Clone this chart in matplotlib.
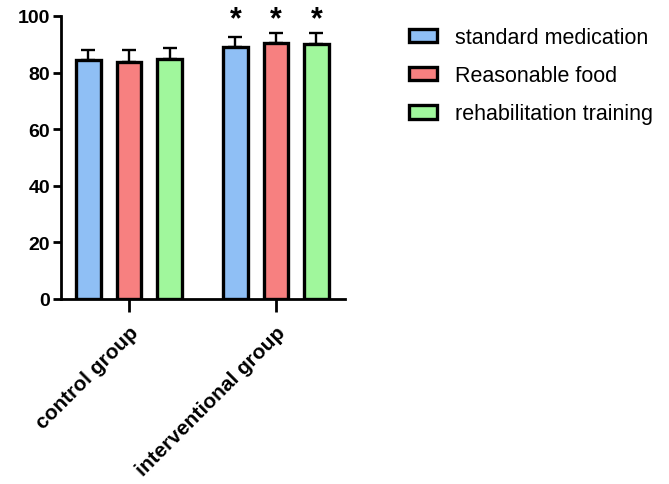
import matplotlib.pyplot as plt
import numpy as np

plt.rcParams['font.family'] = ['Liberation Sans', 'DejaVu Sans']

groups = ["control group", "interventional group"]
series = ["standard medication", "Reasonable food", "rehabilitation training"]
colors = ["#8fbff5", "#f78080", "#a0f79c"]
means = {
    "standard medication": [84.3, 89.0],
    "Reasonable food": [83.6, 90.6],
    "rehabilitation training": [84.9, 90.1],
}
sds = {
    "standard medication": [3.7, 3.6],
    "Reasonable food": [4.4, 3.5],
    "rehabilitation training": [3.7, 4.0],
}
significant = [False, True]
yticks = [0, 20, 40, 60, 80, 100]

fig = plt.figure(figsize=(6.69, 4.85), dpi=100)
ax = fig.add_axes([61 / 669, (485 - 300) / 485, (345 - 61) / 669, 283 / 485])

x = np.arange(len(groups))
offset = 0.276
width = 0.165
for i, name in enumerate(series):
    pos = x + (i - 1) * offset
    ax.bar(pos, means[name], width=width, color=colors[i], edgecolor="black",
           linewidth=2.4, label=name, zorder=2)
    ax.errorbar(pos, means[name], yerr=[np.zeros(len(groups)), sds[name]],
                fmt="none", ecolor="black", elinewidth=1.7, capsize=5,
                capthick=1.7, zorder=1)
    for j, sig in enumerate(significant):
        if sig:
            ax.text(pos[j], 99.0, "*", ha="center", va="center",
                    fontsize=22, fontweight="bold")

ax.set_xlim(-0.463, 1.47)
ax.set_ylim(0, 100)
ax.set_yticks(yticks)
ax.set_yticklabels([str(t) for t in yticks], fontsize=14, fontweight="bold")
ax.set_xticks(x)
ax.set_xticklabels(groups, rotation=45, ha="right", rotation_mode="anchor",
                   fontsize=15, fontweight="bold")
for s in ["top", "right"]:
    ax.spines[s].set_visible(False)
for s in ["left", "bottom"]:
    ax.spines[s].set_linewidth(2)
ax.tick_params(axis="y", width=2, length=6, pad=2)
ax.tick_params(axis="x", width=2, length=9, pad=8)

ax.legend(loc="upper left", bbox_to_anchor=(409 / 669, 1 - 28 / 485),
          bbox_transform=fig.transFigure, frameon=False, fontsize=15.5,
          borderaxespad=0, borderpad=0,
          handlelength=1.3, handleheight=0.6, handletextpad=0.85,
          labelspacing=0.8)

fig.savefig("out.png", dpi=100)
